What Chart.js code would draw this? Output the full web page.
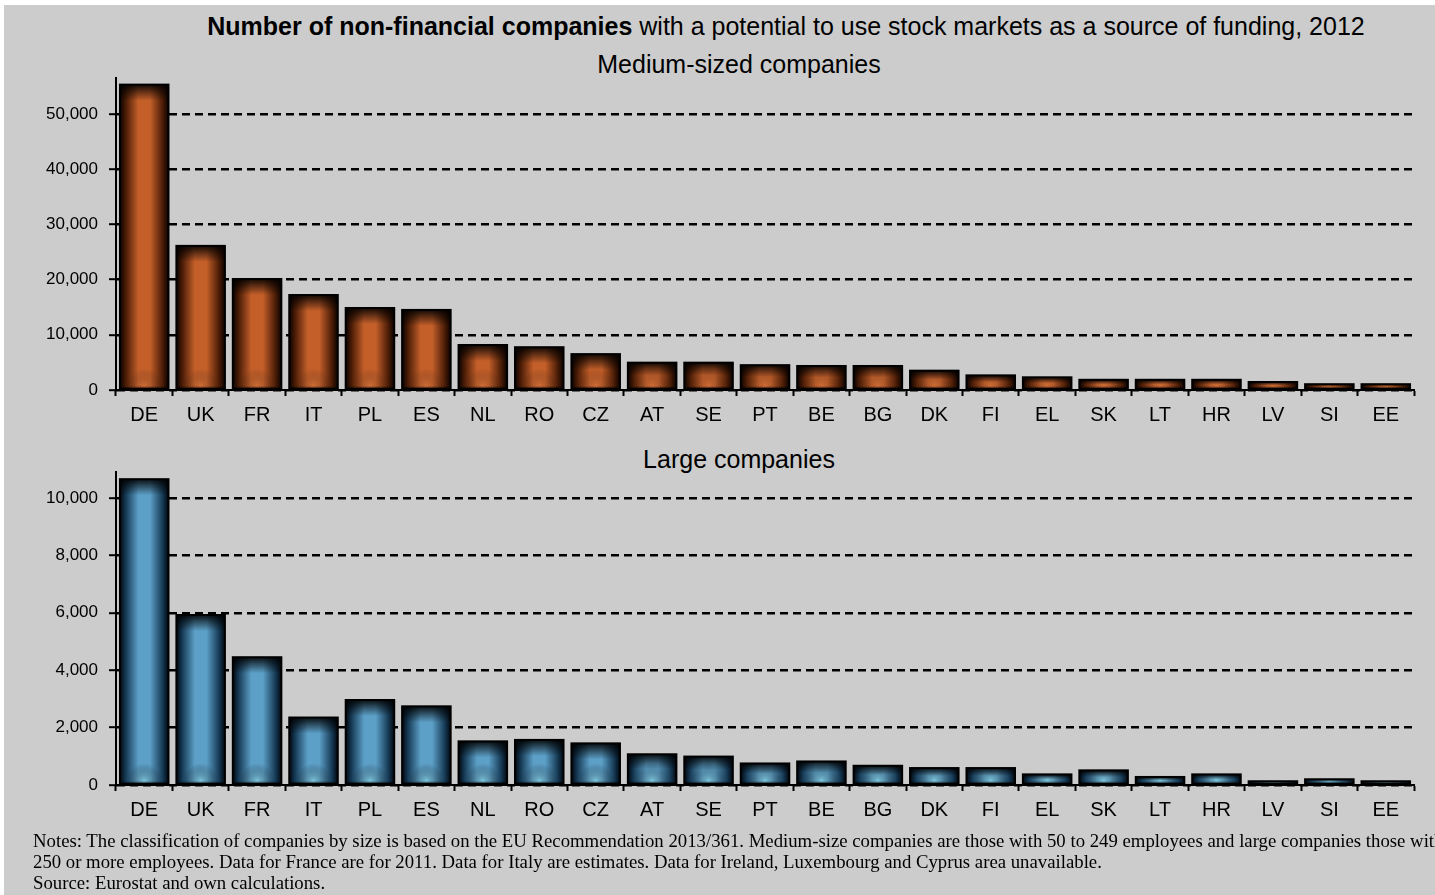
<!DOCTYPE html>
<html>
<head>
<meta charset="utf-8">
<script src="https://cdn.jsdelivr.net/npm/chart.js@4.4.1/dist/chart.umd.min.js"></script>
<style>
  body { margin: 0; background: #fff; }
  #page {
    position: absolute; left: 4px; top: 5px; width: 1431px; height: 890px;
    background: #cccccc; overflow: hidden;
  }
  .txt { position: absolute; white-space: nowrap; color: #000;
    font-family: "Liberation Sans", Arial, sans-serif; }
  .title { font-size: 25px; line-height: 25px; transform: translateX(-50%); }
  canvas { position: absolute; left: -4px; }
  #notes { position: absolute; left: 29px; top: 825px; white-space: nowrap;
    font-family: "Liberation Serif", "Times New Roman", serif; font-size: 18.75px; line-height: 21px; }
</style>
</head>
<body>
<div id="page">
  <div class="txt title" style="left:782px; top:9px"><b>Number of non-financial companies</b> with a potential to use stock markets as a source of funding, 2012</div>
  <div class="txt title" style="left:735px; top:47px">Medium-sized companies</div>
  <canvas id="medium" width="1435" height="370" style="top:65px"></canvas>
  <div class="txt title" style="left:735px; top:442px">Large companies</div>
  <canvas id="large" width="1435" height="370" style="top:457px"></canvas>
  <div id="notes">Notes: The classification of companies by size is based on the EU Recommendation 2013/361. Medium-size companies are those with 50 to 249 employees and large companies those with<br>250 or more employees. Data for France are for 2011. Data for Italy are estimates. Data for Ireland, Luxembourg and Cyprus area unavailable.<br>Source: Eurostat and own calculations.</div>
</div>
<script>
const countries = ["DE", "UK", "FR", "IT", "PL", "ES", "NL", "RO", "CZ", "AT", "SE", "PT",
  "BE", "BG", "DK", "FI", "EL", "SK", "LT", "HR", "LV", "SI", "EE"];
const mediumFirms = [55300, 26100, 20100, 17200, 14850, 14500, 8150, 7750, 6500, 4950, 4950, 4500,
  4350, 4350, 3500, 2650, 2300, 1850, 1850, 1850, 1450, 1050, 1050];
const largeFirms = [10650, 5920, 4450, 2350, 2960, 2740, 1520, 1570, 1450, 1070, 990, 750,
  820, 670, 590, 590, 370, 510, 280, 370, 130, 200, 130];
const mediumTicks = [0, 10000, 20000, 30000, 40000, 50000];
const largeTicks = [0, 2000, 4000, 6000, 8000, 10000];

Chart.defaults.font.family = "'Liberation Sans', Arial, sans-serif";
Chart.defaults.color = "#000";

// paints the "cylinder" look over every bar: dark sides, dark top, light glow at the base
const shadeBars = {
  id: "shadeBars",
  afterDatasetsDraw(chart, args, opts) {
    const ctx = chart.ctx;
    chart.getDatasetMeta(0).data.forEach((bar) => {
      const { x, y, base, width } = bar.getProps(["x", "y", "base", "width"], true);
      const l = x - width / 2;
      const t = Math.min(y, base);
      const h = Math.abs(base - y);
      ctx.save();
      ctx.beginPath();
      ctx.rect(l, t, width, h);
      ctx.clip();

      let g = ctx.createLinearGradient(l, 0, l + width, 0);
      g.addColorStop(0, opts.edge);
      g.addColorStop(0.12, opts.side);
      g.addColorStop(0.38, opts.mid);
      g.addColorStop(0.62, opts.mid);
      g.addColorStop(0.88, opts.side);
      g.addColorStop(1, opts.edge);
      ctx.fillStyle = g;
      ctx.fillRect(l, t, width, h);

      const r = width * 0.36;
      g = ctx.createRadialGradient(x, base - 3, 0, x, base - 3, r);
      g.addColorStop(0, opts.glow);
      g.addColorStop(1, "rgba(0,0,0,0)");
      ctx.fillStyle = g;
      ctx.fillRect(l, t, width, h);

      const s = Math.min(16, h * 0.5);
      g = ctx.createLinearGradient(0, t, 0, t + s);
      g.addColorStop(0, "rgba(0,0,0,0.9)");
      g.addColorStop(1, "rgba(0,0,0,0)");
      ctx.fillStyle = g;
      ctx.fillRect(l, t, width, s);

      g = ctx.createLinearGradient(0, base - 3, 0, base);
      g.addColorStop(0, "rgba(0,0,0,0)");
      g.addColorStop(1, "rgba(0,0,0,0.6)");
      ctx.fillStyle = g;
      ctx.fillRect(l, base - 3, width, 3);
      ctx.restore();

      ctx.save();
      ctx.lineWidth = 2;
      ctx.strokeStyle = "#000";
      ctx.strokeRect(l, t, width, h);
      ctx.restore();
    });
  },
};

function makeChart(id, values, ticks, max, pad, xHeight, shade) {
  const step = ticks[1] - ticks[0];
  return new Chart(document.getElementById(id), {
    type: "bar",
    data: {
      labels: countries,
      datasets: [{
        data: values,
        backgroundColor: shade.mid,
        borderWidth: 0,
        barPercentage: 0.86,
        categoryPercentage: 1,
      }],
    },
    options: {
      responsive: false,
      animation: false,
      events: [],
      layout: { padding: { top: pad, right: 21, bottom: 0, left: 0 } },
      plugins: {
        legend: { display: false },
        tooltip: { enabled: false },
        shadeBars: shade,
      },
      scales: {
        x: {
          afterFit: (s) => {
            s.height = xHeight;
            s.paddingLeft = 0;
            s.paddingRight = 0;
          },
          grid: {
            offset: true,
            drawOnChartArea: false,
            tickLength: 6,
            tickWidth: 2,
            tickColor: "#000",
          },
          border: { color: "#000", width: 2 },
          ticks: { font: { size: 20 }, padding: 7, maxRotation: 0, autoSkip: false },
        },
        y: {
          min: 0,
          max: max,
          afterFit: (s) => {
            s.width = 116;
            s.paddingTop = 0;
            s.paddingBottom = 0;
          },
          afterBuildTicks: (s) => {
            s.ticks = ticks.map((v) => ({ value: v }));
          },
          grid: {
            color: "#000",
            lineWidth: 2.4,
            tickLength: 7,
            tickWidth: 2,
            tickColor: "#000",
          },
          border: { color: "#000", width: 2, dash: [8, 5] },
          ticks: {
            stepSize: step,
            font: { size: 17 },
            padding: 11,
            callback: (v) => v.toLocaleString("en-US"),
          },
        },
      },
    },
    plugins: [shadeBars],
  });
}

makeChart("medium", mediumFirms, mediumTicks, 56500, 8, 50, {
  edge: "#0a0200", side: "#4a1c06", mid: "#c45f2a", glow: "rgba(222,128,70,0.45)",
});
makeChart("large", largeFirms, largeTicks, 10900, 10, 47, {
  edge: "#01070f", side: "#163a55", mid: "#5c9fc7", glow: "rgba(140,214,232,0.7)",
});
</script>
</body>
</html>
